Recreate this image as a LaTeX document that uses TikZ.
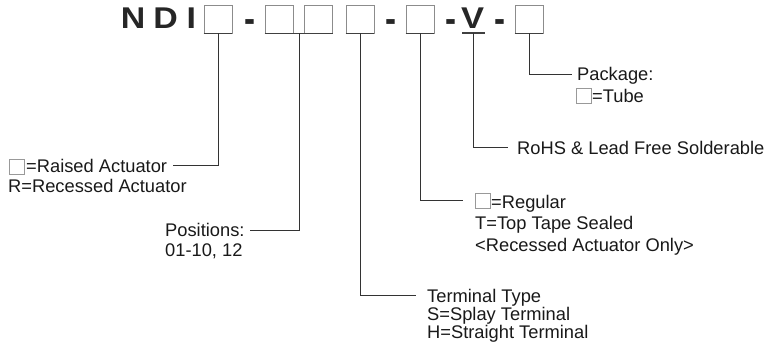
\documentclass[tikz,border=0pt]{standalone}
\usepackage{fontspec}
\setmainfont{Liberation Sans}
\begin{document}
\begin{tikzpicture}[x=1bp,y=-1bp,
  pbox/.style={draw=black!45,line width=0.8bp,minimum width=28bp,minimum height=28bp,inner sep=0pt},
  uline/.style={draw=black!75,line width=1.4bp},
  ibox/.style={draw=black!40,line width=0.7bp,minimum width=15bp,minimum height=15bp,inner sep=0pt},
  lead/.style={draw=black!80,line width=0.9bp},
  big/.style={font=\fontsize{30bp}{30bp}\selectfont\bfseries,inner sep=0pt,anchor=base,text=black!85},
  lbl/.style={font=\fontsize{18.3bp}{20bp}\selectfont,inner sep=0pt,anchor=base west,text=black!90}]
\useasboundingbox (0,0) rectangle (768,354);
% part number
\node[big] (n) at (133,28) {\scalebox{1.13}[1]{N}};
\node[big] (d) at (165.7,28) {\scalebox{1.13}[1]{D}};
\node[big] (i) at (191.3,28) {\scalebox{1.13}[1]{I}};
\node[pbox] (b1) at (218,19) {};
\node[big] (h1) at (250,32.5) {\scalebox{1.1}[1.35]{-}};
\node[pbox] (b2) at (279,19) {};
\node[pbox] (b3) at (318.5,19) {};
\node[big] (h2) at (391,32.5) {\scalebox{1.1}[1.35]{-}};
\node[pbox] (b4) at (360,19) {};
\node[pbox] (b5) at (420,19) {};
\node[big] (h3) at (451,32.5) {\scalebox{1.1}[1.35]{-}};
\node[big] (v) at (472.7,28.5) {\scalebox{1.15}[1]{V}};
\node[big] (h4) at (500,32.5) {\scalebox{1.1}[1.35]{-}};
\node[pbox] (b6) at (529,19) {};
\coordinate (vl) at (462,33);
\coordinate (vr) at (485,33);
% underlines
\draw[uline] (b1.south west) -- (b1.south east);
\draw[uline] (b2.south west) -- (b3.south east);
\draw[uline] (b4.south west) -- (b4.south east);
\draw[uline] (b5.south west) -- (b5.south east);
\draw[uline] (b6.south west) -- (b6.south east);
\draw[uline] (vl) -- (vr);
% labels
\node[ibox] (i1) at (17,167) {};
\node[lbl] (t1) at (26,172) {=Raised Actuator};
\node[lbl] (t1b) at (8,192.5) {R=Recessed Actuator};
\node[lbl] (t2) at (165,236) {Positions:};
\node[lbl] (t2b) at (165,256) {01-10, 12};
\node[lbl] (t3) at (427,302.5) {Terminal Type};
\node[lbl] (t3b) at (427,320.5) {S=Splay Terminal};
\node[lbl] (t3c) at (427,338) {H=Straight Terminal};
\node[ibox] (i4) at (482.5,200.5) {};
\node[lbl] (t4) at (491,208) {=Regular};
\node[lbl] (t4b) at (475,229) {T=Top Tape Sealed};
\node[lbl] (t4c) at (475,251) {<Recessed Actuator Only>};
\node[lbl] (t5) at (517,154) {RoHS \& Lead Free Solderable};
\node[lbl] (t6) at (577,80) {Package:};
\node[ibox] (i6) at (584,95.5) {};
\node[lbl] (t6b) at (592,102) {=Tube};
% leader ends
\coordinate (e1) at (173,165);
\coordinate (e2) at (250,230);
\coordinate (e3) at (416,295);
\coordinate (e4) at (463,200);
\coordinate (e5) at (508,147);
\coordinate (e6) at (572,74);
\coordinate (s23) at (299,33);
\coordinate (sv) at (473,33);
% leaders
\draw[lead] (b1.south) |- (e1);
\draw[lead] (s23) |- (e2);
\draw[lead] (b4.south) |- (e3);
\draw[lead] (b5.south) |- (e4);
\draw[lead] (sv) |- (e5);
\draw[lead] (b6.south) |- (e6);
\end{tikzpicture}
\end{document}
